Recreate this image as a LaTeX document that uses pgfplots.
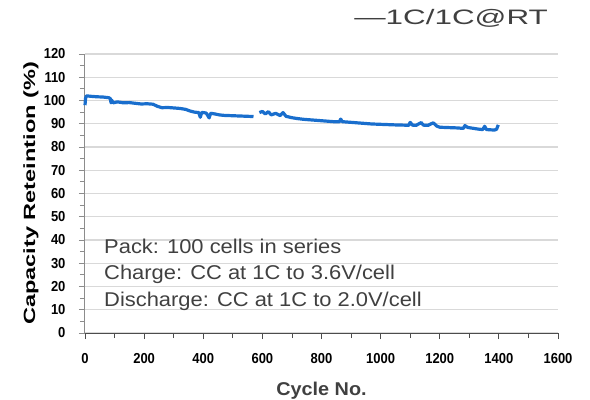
\documentclass[border=0pt]{standalone}
\usepackage{pgfplots}
\pgfplotsset{compat=1.18}
\usepackage{fontspec}
\setmainfont{Liberation Sans}
\definecolor{lineblue}{RGB}{25,110,205}
\definecolor{txtgray}{RGB}{64,64,64}
\definecolor{gridgray}{RGB}{217,217,217}
\begin{document}
\begin{tikzpicture}
\path[use as bounding box] (-85bp,-67bp) rectangle (505bp,333bp);
\begin{axis}[
  scale only axis,
  width=473bp, height=279bp,
  xmin=0, xmax=1600, ymin=0, ymax=120,
  axis lines*=left,
  hide obscured x ticks=false,
  hide obscured y ticks=false,
  x axis line style={color=black!70, line width=1bp},
  y axis line style={color=black!45, line width=1bp},
  xtick={0,200,...,1600},
  minor xtick={100,300,...,1500},
  ytick={0,10,...,120},
  minor ytick={5,15,...,115},
  tick align=outside,
  major tick length=6bp,
  minor tick length=5bp,
  x tick style={color=black!70, line width=0.8bp},
  y tick style={color=black!45, line width=0.8bp},
  ymajorgrids,
  major grid style={color=gridgray, line width=1.2bp},
  /pgf/number format/assume math mode=true,
  /pgf/number format/1000 sep={},
  xticklabel={\scalebox{0.9}[1]{\pgfmathprintnumber{\tick}}},
  yticklabel={\scalebox{0.9}[1]{\pgfmathprintnumber{\tick}}},
  ticklabel style={font=\fontsize{14.5}{14.5}\selectfont\bfseries, text=black},
  xticklabel style={yshift=-11bp},
  yticklabel style={xshift=-10bp},
  xlabel={\scalebox{1.07}[1]{Cycle No.}},
  xlabel style={font=\fontsize{18.6}{18.6}\selectfont\bfseries, text=txtgray, at={(axis description cs:0.5,0)}, anchor=base, yshift=-62bp},
  ylabel={\scalebox{1.45}[1]{Capacity Reteintion (\%)}},
  ylabel style={font=\fontsize{16.3}{16.3}\selectfont\bfseries, text=black, at={(axis description cs:0,0.5)}, anchor=center, yshift=54bp},
  unbounded coords=jump,
  clip=false,
]
\addplot[color=lineblue, line width=3.2bp, line join=round] coordinates {
(0,98) (2,101) (5,102) (20,101.8) (40,101.6) (60,101.5) (80,101.2) (86,100.8)
(88,99.0) (90,100.2) (95,99.0) (110,99.4) (130,99.0) (150,99.1) (170,98.8)
(190,98.5) (210,98.6) (230,98.4) (245,97.5) (260,96.9) (280,97.0) (300,96.8)
(320,96.6) (340,96.2) (355,95.5) (370,95.0) (385,94.8) (390,92.8) (395,94.9)
(410,94.6) (420,92.5) (425,94.5) (440,94.2) (455,93.8) (470,93.6) (490,93.5)
(510,93.4) (530,93.3) (550,93.2) (570,93.1) (575,nan)
(590,94.8) (600,95.3) (610,94.2) (620,95.2) (630,93.8) (645,94.5) (660,93.5)
(670,94.8) (680,93.2) (700,92.6) (720,92.2) (740,91.9) (760,91.7) (780,91.5)
(800,91.3) (820,91.1) (840,90.9) (860,90.8) (865,92.0) (870,90.9) (890,90.7)
(910,90.5) (930,90.3) (950,90.1) (970,89.9) (990,89.8) (1010,89.7) (1030,89.6)
(1050,89.5) (1080,89.4) (1095,89.3) (1100,90.6) (1108,89.4) (1120,89.3)
(1137,90.5) (1145,89.4) (1160,89.3) (1178,90.4) (1190,89.0) (1200,88.5)
(1220,88.4) (1240,88.3) (1260,88.2) (1280,88.0) (1285,89.2) (1295,88.4)
(1310,88.1) (1330,87.7) (1345,87.5) (1352,88.9) (1358,87.5) (1370,87.4)
(1385,87.3) (1392,87.6) (1398,89.5)
};
\end{axis}
\begin{scope}[every node/.style={font=\fontsize{20}{20}\selectfont, text=txtgray, anchor=base west, inner sep=0pt}]
\node at (19bp,79bp) {\scalebox{1.1}[1]{Pack: 100 cells in series}};
\node at (19bp,53bp) {\scalebox{1.1}[1]{Charge: CC at 1C to 3.6V/cell}};
\node at (19bp,27bp) {\scalebox{1.1}[1]{Discharge: CC at 1C to 2.0V/cell}};
\end{scope}
\node[font=\fontsize{21}{21}\selectfont, text=txtgray, anchor=base east, inner sep=0pt] at (463bp,308bp) {\scalebox{1.5}[1]{—1C/1C@RT}};
\end{tikzpicture}
\end{document}
